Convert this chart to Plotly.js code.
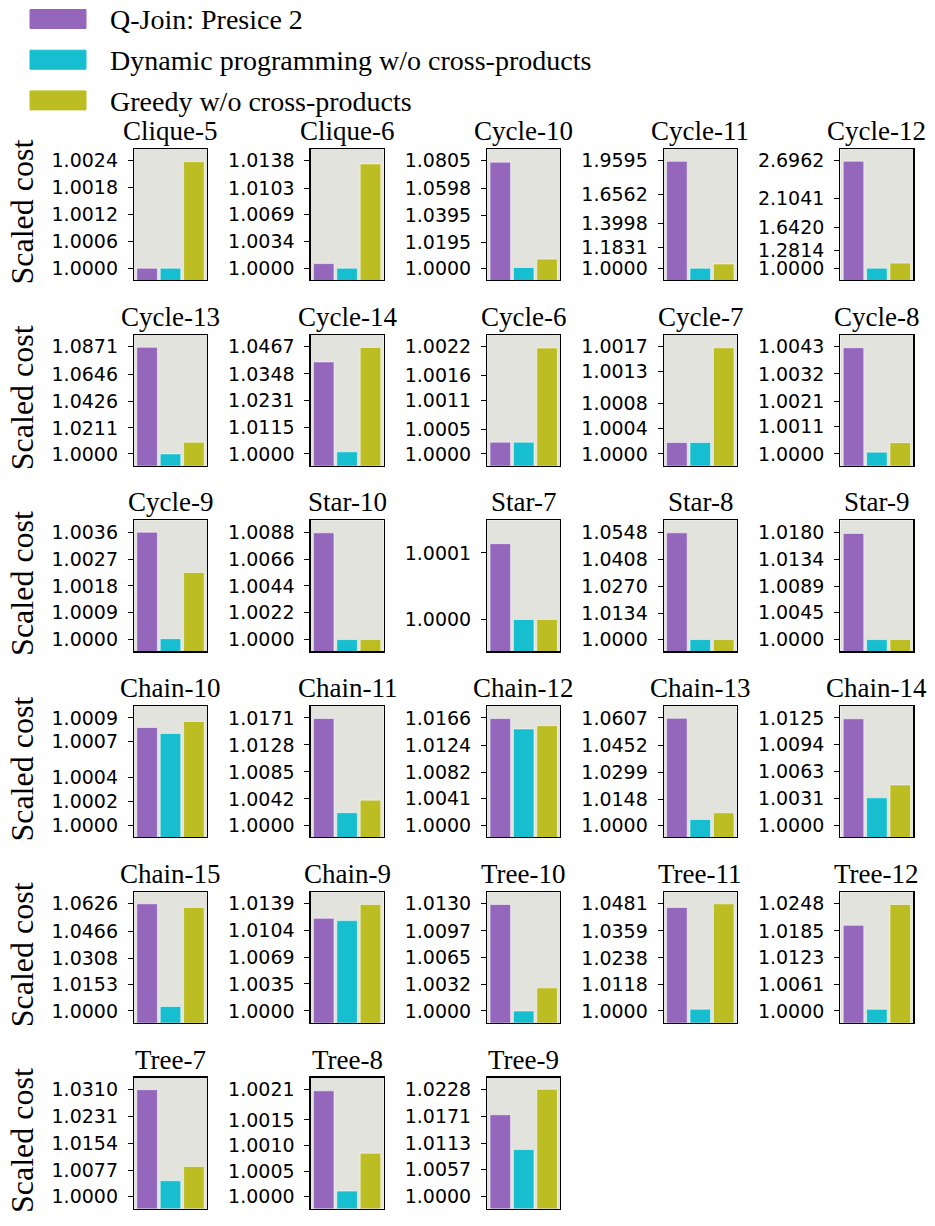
<!DOCTYPE html>
<html>
<head>
<meta charset="utf-8">
<script src="https://cdn.plot.ly/plotly-3.0.1.min.js"></script>
<style>
  body { margin: 0; background: #fff; }
  #plot { width: 935px; height: 1226px; }
</style>
</head>
<body>
<div id="plot"></div>
<script>
// query names, one subplot each
const queries = [
  'Clique-5', 'Clique-6', 'Cycle-10', 'Cycle-11', 'Cycle-12',
  'Cycle-13', 'Cycle-14', 'Cycle-6', 'Cycle-7', 'Cycle-8',
  'Cycle-9', 'Star-10', 'Star-7', 'Star-8', 'Star-9',
  'Chain-10', 'Chain-11', 'Chain-12', 'Chain-13', 'Chain-14',
  'Chain-15', 'Chain-9', 'Tree-10', 'Tree-11', 'Tree-12',
  'Tree-7', 'Tree-8', 'Tree-9'
];

const seriesNames = ['Q-Join: Presice 2', 'Dynamic programming w/o cross-products', 'Greedy w/o cross-products'];
const seriesColors = ['#9467bd', '#17becf', '#bcbd22'];

// scaled cost
const qjoin = [
  1.0000, 1.00059, 1.0795, 1.955, 2.69,
  1.0865, 1.0400, 1.00024, 1.00018, 1.00425,
  1.0036, 1.00875, 1.000114, 1.0545, 1.0178,
  1.00082, 1.0170, 1.0165, 1.0605, 1.0124,
  1.0625, 1.0120, 1.0129, 1.0464, 1.0198,
  1.0309, 1.00207, 1.0174
];
const dynProg = [
  1.0000, 1.0000, 1.0005, 1.0, 1.0,
  1.0000, 1.0009, 1.00024, 1.00018, 1.00007,
  1.00003, 1.0000, 1.0000, 1.0000, 1.0000,
  1.00077, 1.0020, 1.0149, 1.0033, 1.0032,
  1.0026, 1.0117, 1.0000, 1.0008, 1.0004,
  1.0046, 1.00011, 1.0100
];
const greedy = [
  1.00238, 1.0134, 1.0068, 1.038, 1.08,
  1.0094, 1.0463, 1.00217, 1.00168, 1.00045,
  1.00225, 1.0000, 1.0000, 1.0000, 1.0000,
  1.00087, 1.0040, 1.0154, 1.0071, 1.0047,
  1.0604, 1.0138, 1.0028, 1.0480, 1.0246,
  1.0087, 1.00085, 1.0228
];

// y tick labels per subplot
const tickLabels = [
  ['1.0000', '1.0006', '1.0012', '1.0018', '1.0024'],
  ['1.0000', '1.0034', '1.0069', '1.0103', '1.0138'],
  ['1.0000', '1.0195', '1.0395', '1.0598', '1.0805'],
  ['1.0000', '1.1831', '1.3998', '1.6562', '1.9595'],
  ['1.0000', '1.2814', '1.6420', '2.1041', '2.6962'],
  ['1.0000', '1.0211', '1.0426', '1.0646', '1.0871'],
  ['1.0000', '1.0115', '1.0231', '1.0348', '1.0467'],
  ['1.0000', '1.0005', '1.0011', '1.0016', '1.0022'],
  ['1.0000', '1.0004', '1.0008', '1.0013', '1.0017'],
  ['1.0000', '1.0011', '1.0021', '1.0032', '1.0043'],
  ['1.0000', '1.0009', '1.0018', '1.0027', '1.0036'],
  ['1.0000', '1.0022', '1.0044', '1.0066', '1.0088'],
  ['1.0000', '1.0001'],
  ['1.0000', '1.0134', '1.0270', '1.0408', '1.0548'],
  ['1.0000', '1.0045', '1.0089', '1.0134', '1.0180'],
  ['1.0000', '1.0002', '1.0004', '1.0007', '1.0009'],
  ['1.0000', '1.0042', '1.0085', '1.0128', '1.0171'],
  ['1.0000', '1.0041', '1.0082', '1.0124', '1.0166'],
  ['1.0000', '1.0148', '1.0299', '1.0452', '1.0607'],
  ['1.0000', '1.0031', '1.0063', '1.0094', '1.0125'],
  ['1.0000', '1.0153', '1.0308', '1.0466', '1.0626'],
  ['1.0000', '1.0035', '1.0069', '1.0104', '1.0139'],
  ['1.0000', '1.0032', '1.0065', '1.0097', '1.0130'],
  ['1.0000', '1.0118', '1.0238', '1.0359', '1.0481'],
  ['1.0000', '1.0061', '1.0123', '1.0185', '1.0248'],
  ['1.0000', '1.0077', '1.0154', '1.0231', '1.0310'],
  ['1.0000', '1.0005', '1.0010', '1.0015', '1.0021'],
  ['1.0000', '1.0057', '1.0113', '1.0171', '1.0228']
];

// Star-7 has its own y range
const rangeOverride = { 'Star-7': [0.999952, 1.000149] };

// figure geometry (px)
const W = 935, H = 1226;
const colLeft = 134, colStep = 176.6, boxW = 73;
const rowTop = 149, rowStep = 185.7, boxH = 131;
const serif = 'Liberation Serif, Times New Roman, serif';

const traces = [];
const annotations = [];
const shapes = [];
const layout = {
  width: W, height: H,
  margin: { l: 0, r: 0, t: 0, b: 0 },
  paper_bgcolor: '#ffffff',
  plot_bgcolor: '#e2e3dd',
  showlegend: false,
  bargap: 0
};

queries.forEach((name, i) => {
  const n = i === 0 ? '' : String(i + 1);
  const r = Math.floor(i / 5), c = i % 5;
  const x0 = colLeft + c * colStep;
  const y0 = rowTop + r * rowStep;

  traces.push({
    type: 'bar',
    x: [0, 1, 2],
    y: [qjoin[i], dynProg[i], greedy[i]],
    width: 0.88,
    marker: { color: seriesColors, line: { color: 'rgba(255,255,255,0.55)', width: 1 } },
    xaxis: 'x' + n, yaxis: 'y' + n,
    hovertemplate: name + ': %{y:.5f}<extra></extra>'
  });

  const ticks = tickLabels[i];
  const top = Number(ticks[ticks.length - 1]);
  const span = top - 1;
  const range = rangeOverride[name] || [1 - 0.11 * span, top + 0.11 * span];

  layout['xaxis' + n] = {
    domain: [x0 / W, (x0 + boxW) / W], anchor: 'y' + n,
    range: [-0.56, 2.56], showticklabels: false, ticks: '',
    showgrid: false, zeroline: false,
    showline: true, mirror: true, linecolor: '#000', linewidth: 1.2
  };
  layout['yaxis' + n] = {
    domain: [1 - (y0 + boxH) / H, 1 - y0 / H], anchor: 'x' + n,
    range: range,
    tickmode: 'array', tickvals: ticks.map(Number), ticktext: ticks,
    ticks: 'outside', ticklen: 5, tickwidth: 1, tickcolor: '#000',
    ticklabelstandoff: 6,
    tickfont: { family: 'DejaVu Sans', size: 19, color: '#000' },
    showgrid: false, zeroline: false,
    showline: true, mirror: true, linecolor: '#000', linewidth: 1.2
  };

  // subplot title
  annotations.push({
    text: name, xref: 'paper', yref: 'paper',
    x: (x0 + boxW / 2) / W, y: 1 - (y0 - 1) / H,
    xanchor: 'center', yanchor: 'bottom', showarrow: false,
    font: { family: serif, size: 27, color: '#000' }
  });

  // one y label per row
  if (c === 0) {
    annotations.push({
      text: 'Scaled cost', xref: 'paper', yref: 'paper',
      x: 22 / W, y: 1 - (y0 + boxH / 2 - 2) / H,
      xanchor: 'center', yanchor: 'middle', textangle: -90, showarrow: false,
      font: { family: serif, size: 32, color: '#000' }
    });
  }
});

// legend drawn as swatches + text
seriesNames.forEach((s, k) => {
  const cy = 19 + k * 40.7;
  shapes.push({
    type: 'rect', xref: 'paper', yref: 'paper',
    x0: 30 / W, x1: 86 / W, y0: 1 - (cy + 9.5) / H, y1: 1 - (cy - 9.5) / H,
    fillcolor: seriesColors[k], line: { color: seriesColors[k], width: 1 }
  });
  annotations.push({
    text: s, xref: 'paper', yref: 'paper',
    x: 108 / W, y: 1 - (cy + 1) / H,
    xanchor: 'left', yanchor: 'middle', showarrow: false,
    font: { family: serif, size: 28, color: '#000' }
  });
});

layout.annotations = annotations;
layout.shapes = shapes;

Plotly.newPlot('plot', traces, layout, { displayModeBar: false, staticPlot: true });
</script>
</body>
</html>
